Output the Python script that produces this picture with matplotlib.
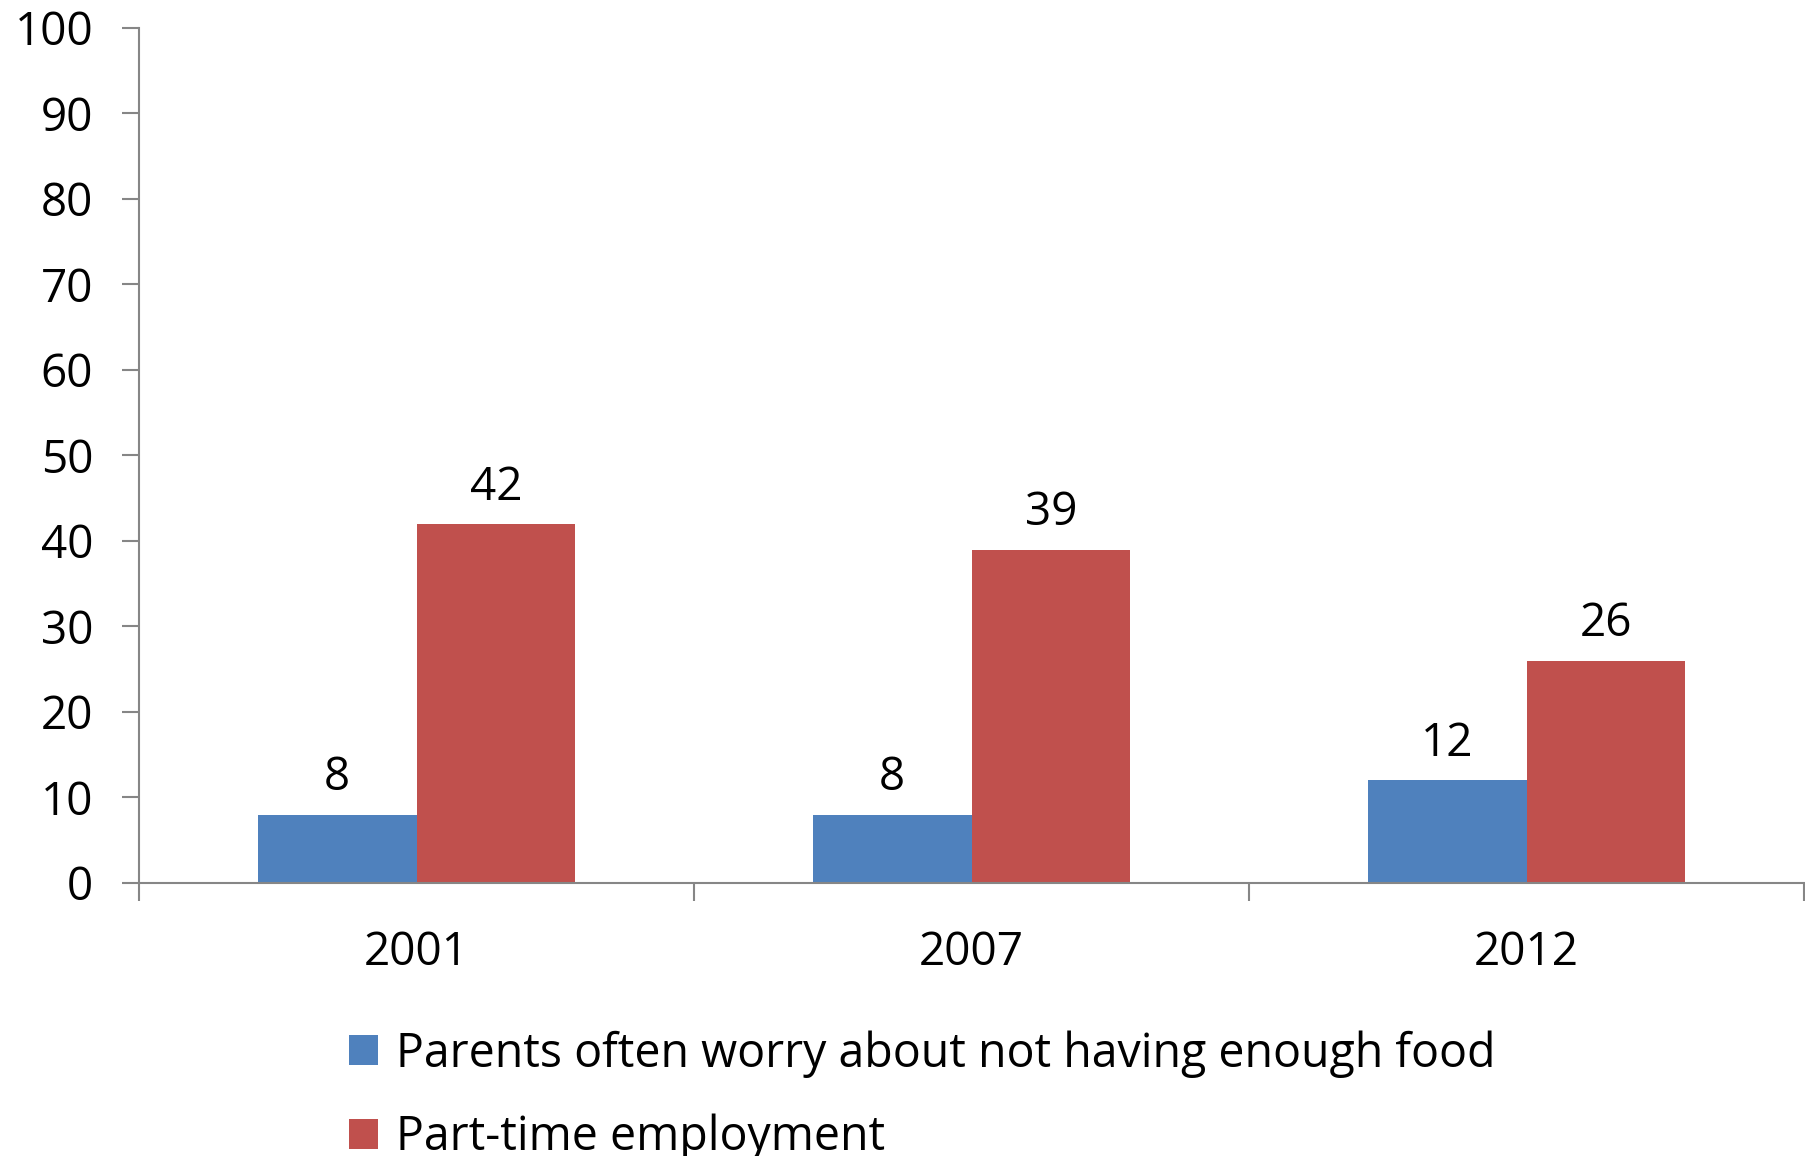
import matplotlib
matplotlib.use("Agg")
import matplotlib.pyplot as plt
import numpy as np

categories = ["2001", "2007", "2012"]
series_names = ["Parents often worry about not having enough food", "Part-time employment"]
food_worry = [8, 8, 12]
part_time = [42, 39, 26]
yticks = [0, 10, 20, 30, 40, 50, 60, 70, 80, 90, 100]

colors = ["#4F81BD", "#C0504D"]
plt.rcParams['font.family'] = ['Open Sans', 'DejaVu Sans']
FS = 33

fig = plt.figure(figsize=(18.05, 11.56), dpi=100)
ax = fig.add_axes([0.0770, 0.2362, 0.9225, 0.7396])

x = np.arange(len(categories))
w = 1 / 3.5
b1 = ax.bar(x - w / 2, food_worry, w, color=colors[0], label=series_names[0])
b2 = ax.bar(x + w / 2, part_time, w, color=colors[1], label=series_names[1])

for bars, vals in ((b1, food_worry), (b2, part_time)):
    for r, v in zip(bars, vals):
        ax.annotate(f"{v}", (r.get_x() + r.get_width() / 2, v), xytext=(0, 17.5),
                    textcoords="offset points", ha="center", va="baseline", fontsize=FS)

ax.set_xlim(-0.5, len(categories) - 0.5)
ax.set_ylim(0, 100)
ax.set_yticks(yticks)
ax.set_yticklabels([str(t) for t in yticks], fontsize=FS)
ax.set_xticks(x)
ax.set_xticklabels(categories, fontsize=FS)
ax.set_xticks(np.arange(-0.5, len(categories)), minor=True)

gray = "#868686"
for s in ("top", "right"):
    ax.spines[s].set_visible(False)
for s in ("left", "bottom"):
    ax.spines[s].set_color(gray)
    ax.spines[s].set_linewidth(1.5)
ax.tick_params(axis="y", which="major", length=12, width=1.5, color=gray, pad=21)
ax.tick_params(axis="x", which="major", length=0, pad=34)
ax.tick_params(axis="x", which="minor", length=13, width=1.5, color=gray)

leg = fig.legend(loc="upper left", bbox_to_anchor=(349 / 1805, 1 - 1030 / 1156),
                 frameon=False, fontsize=33.5, handlelength=0.63, handleheight=0.63,
                 handletextpad=0.37, labelspacing=0.78, borderpad=0, borderaxespad=0)

fig.savefig("out.png", dpi=100)
